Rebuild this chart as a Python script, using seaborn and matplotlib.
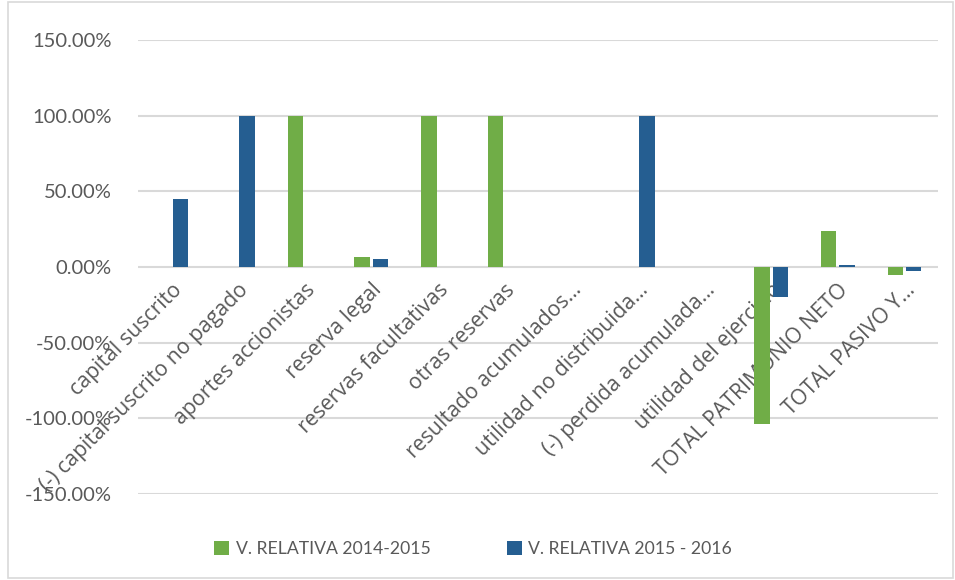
import matplotlib
matplotlib.use("Agg")
import matplotlib.pyplot as plt
import seaborn as sns
import pandas as pd
from matplotlib.patches import Rectangle
from matplotlib.ticker import FuncFormatter

categories = [
    "capital suscrito",
    "(-) capital suscrito no pagado",
    "aportes accionistas",
    "reserva legal",
    "reservas facultativas",
    "otras reservas",
    "resultado acumulados…",
    "utilidad no distribuida…",
    "(-) perdida acumulada…",
    "utilidad del ejercicio",
    "TOTAL PATRIMONIO NETO",
    "TOTAL PASIVO Y…",
]
series_names = ["V. RELATIVA 2014-2015", "V. RELATIVA 2015 - 2016"]
v_2014_2015 = [0, 0, 100, 6.8, 100, 100, 0, 0, 0, -103.5, 24, -5]
v_2015_2016 = [45, 100, 0, 5.5, 0, 0, 0, 100, 0, -19.5, 1.5, -2.5]
yticks = [-150, -100, -50, 0, 50, 100, 150]

colors = ["#70AD47", "#255E91"]
text_color = "#595959"
grid_color = "#D9D9D9"

df = pd.DataFrame({
    "cat": categories * 2,
    "serie": [series_names[0]] * len(categories) + [series_names[1]] * len(categories),
    "val": v_2014_2015 + v_2015_2016,
})

sns.set_theme(style="white")
plt.rcParams["font.family"] = ["Lato", "DejaVu Sans"]

fig = plt.figure(figsize=(9.55, 5.80), dpi=100)
ax = fig.add_axes([0.1445, 0.148, 0.8375, 0.783])

sns.barplot(data=df, x="cat", y="val", hue="serie", order=categories,
            hue_order=series_names, palette=colors, width=0.55, gap=0.15,
            ax=ax, legend=True, saturation=1, zorder=3, linewidth=0)

ax.set_ylim(-150, 150)
ax.set_xlim(-0.5, len(categories) - 0.5)
ax.set_yticks(yticks)
ax.yaxis.set_major_formatter(FuncFormatter(lambda v, p: f"{v:.2f}%"))
for t in yticks:
    ax.axhline(t, color=grid_color, linewidth=1.5, zorder=0)
for s in ["left", "right", "top", "bottom"]:
    ax.spines[s].set_visible(False)
ax.spines["bottom"].set_position(("data", 0))
ax.set_xlabel("")
ax.set_ylabel("")
ax.xaxis.set_zorder(1)
ax.tick_params(axis="y", length=0, pad=19, labelsize=14.5, labelcolor=text_color)
ax.tick_params(axis="x", length=0, pad=9, labelsize=15.3, labelcolor=text_color)
for lab in ax.get_xticklabels():
    lab.set_rotation(45)
    lab.set_ha("right")
    lab.set_va("top")
    lab.set_rotation_mode("anchor")
    lab.set_fontfamily(["Open Sans", "DejaVu Sans"])

handles, labels = ax.get_legend_handles_labels()
ax.legend_.remove()
fig.legend(handles, labels, loc="center", bbox_to_anchor=(0.4955, 0.053), ncol=2,
           frameon=False, fontsize=12.7, labelcolor=text_color,
           handlelength=0.85, handleheight=0.85, handletextpad=0.35,
           columnspacing=4.35)

fig.patches.append(Rectangle((8 / 955, 2 / 580), 945 / 955, 576 / 580,
                             transform=fig.transFigure, fill=False,
                             edgecolor=grid_color, linewidth=1.2))

fig.savefig("out.png", dpi=100)
